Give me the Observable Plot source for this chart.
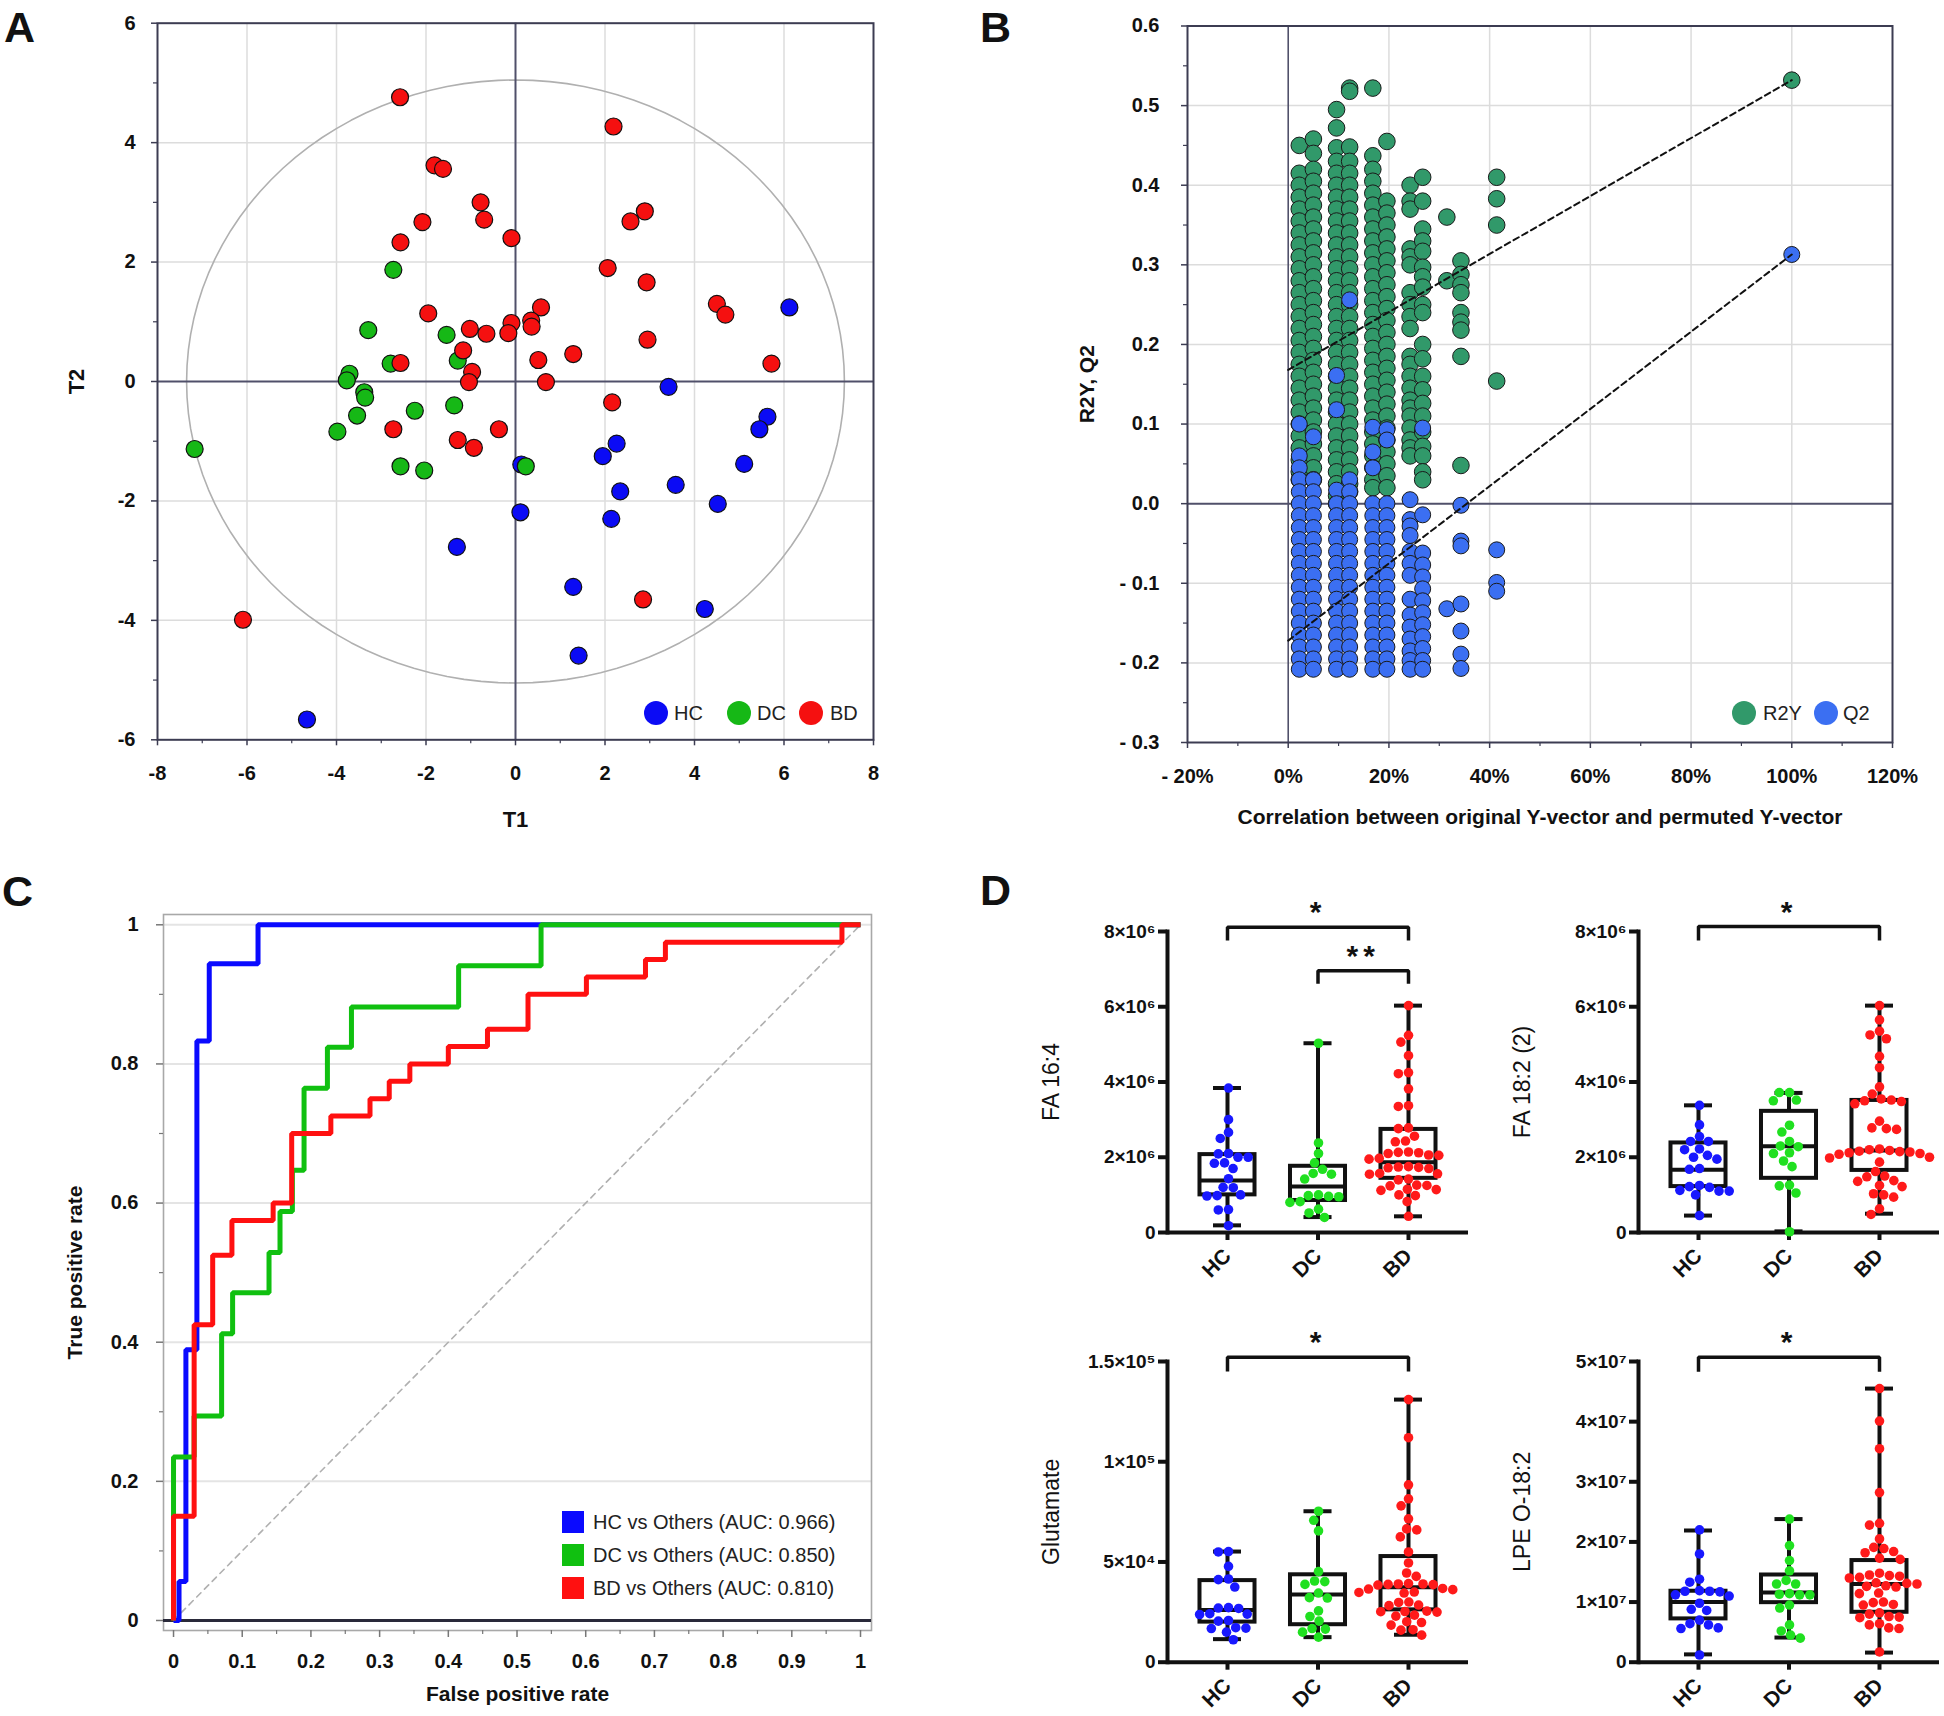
<!DOCTYPE html>
<html><head><meta charset="utf-8">
<script src="https://cdn.jsdelivr.net/npm/d3@7"></script>
<script src="https://cdn.jsdelivr.net/npm/@observablehq/plot@0.6"></script>
<style>
html,body{margin:0;padding:0;background:#fff;}
#page{position:relative;width:1944px;height:1716px;overflow:hidden;background:#fff;font-family:"Liberation Sans",Arial,Helvetica,sans-serif;color:#111;}
.panel{position:absolute;}
.letter{position:absolute;font-weight:bold;font-size:43px;line-height:50px;}
.legt{position:absolute;white-space:nowrap;color:#222;}
.legc{position:absolute;border-radius:50%;}
.legs{position:absolute;}
.pA [aria-label="x-axis label"], .pA [aria-label="y-axis label"]{font-size:22px;}
.pB [aria-label="x-axis label"], .pB [aria-label="y-axis label"]{font-size:21px;}
.pC [aria-label="x-axis label"], .pC [aria-label="y-axis label"]{font-size:21px;}
.pD .stars text{letter-spacing:5px;}
</style></head><body><div id="page"></div>
<script>
// ================= DATA =================
// Panel A: PLS-DA scores [T1, T2]
const scoresHC = [[6.12,1.24],[3.42,-0.09],[5.63,-0.59],[5.45,-0.80],[2.26,-1.04],[1.95,-1.25],[5.11,-1.38],[3.58,-1.73],[2.34,-1.84],[4.52,-2.05],[0.11,-2.19],[2.14,-2.30],[-1.31,-2.77],[1.29,-3.44],[4.23,-3.81],[1.41,-4.59],[-4.66,-5.66],[0.13,-1.39]];
const scoresDC = [[-2.73,1.87],[-3.29,0.86],[-1.54,0.78],[-2.79,0.30],[-1.29,0.35],[-3.71,0.13],[-3.77,0.02],[-3.38,-0.18],[-3.36,-0.27],[-2.25,-0.49],[-1.37,-0.40],[-3.54,-0.57],[-3.98,-0.84],[-7.17,-1.13],[-2.57,-1.42],[-2.04,-1.49],[0.23,-1.42]];
const scoresBD = [[-2.58,4.76],[2.19,4.27],[-1.81,3.62],[-1.62,3.56],[-0.78,3.00],[-0.70,2.71],[-2.08,2.67],[-2.57,2.33],[-0.09,2.40],[2.89,2.85],[2.57,2.68],[2.06,1.90],[2.93,1.66],[4.50,1.30],[4.69,1.12],[-1.95,1.14],[0.57,1.24],[0.35,1.02],[0.36,0.92],[-0.09,0.98],[-0.16,0.81],[-1.02,0.88],[-0.65,0.80],[2.95,0.70],[-1.17,0.52],[1.29,0.46],[0.51,0.36],[-2.57,0.31],[5.72,0.30],[-0.97,0.16],[-1.04,-0.01],[0.68,-0.01],[2.16,-0.35],[-2.73,-0.80],[-0.37,-0.80],[-1.29,-0.98],[-0.93,-1.11],[-6.09,-3.99],[2.85,-3.65]];
const ellipseAxes = [7.35, 5.05];
const aTicksX = [-8,-6,-4,-2,0,2,4,6,8];
const aMinorX = [-7,-5,-3,-1,1,3,5,7];
const aTicksY = [-6,-4,-2,0,2,4,6];
const aMinorY = [-5,-3,-1,1,3,5];
const aGridX = [-6,-4,-2,2,4,6];
const aGridY = [-4,-2,2,4];
const aGroups = ["HC","DC","BD"];

// Panel B: permutation test (x = correlation, columns of R2Y / Q2 values)
const permX = [0.022,0.050,0.096,0.122,0.168,0.196,0.242,0.267,0.315,0.343,0.414,1.000];
const r2yCols = [
 [0.450,0.415,0.400,0.385,0.370,0.355,0.340,0.325,0.310,0.295,0.280,0.265,0.250,0.235,0.220,0.205,0.190,0.175,0.160,0.145,0.130,0.115,0.100,0.085,0.070,0.055,0.040,0.030],
 [0.458,0.440,0.420,0.405,0.390,0.375,0.360,0.345,0.330,0.315,0.300,0.285,0.270,0.255,0.240,0.225,0.210,0.195,0.180,0.165,0.150,0.135,0.120,0.105,0.090,0.075,0.060,0.045,0.030],
 [0.495,0.472,0.447,0.430,0.415,0.400,0.385,0.370,0.355,0.340,0.325,0.310,0.295,0.280,0.265,0.250,0.235,0.220,0.205,0.190,0.175,0.160,0.145,0.130,0.115,0.100,0.085,0.070,0.055,0.040,0.025,0.010,0.000],
 [0.522,0.518,0.448,0.430,0.415,0.400,0.385,0.370,0.355,0.340,0.325,0.310,0.295,0.280,0.265,0.250,0.235,0.220,0.205,0.190,0.175,0.160,0.145,0.130,0.115,0.100,0.085,0.070,0.055,0.040,0.025,0.015],
 [0.522,0.437,0.420,0.405,0.390,0.375,0.360,0.345,0.330,0.315,0.300,0.285,0.270,0.255,0.240,0.225,0.210,0.195,0.180,0.165,0.150,0.135,0.120,0.105,0.090,0.075,0.060,0.045,0.030,0.020],
 [0.455,0.380,0.365,0.350,0.335,0.320,0.305,0.290,0.275,0.260,0.245,0.230,0.215,0.200,0.185,0.170,0.155,0.140,0.125,0.110,0.095,0.080,0.065,0.050,0.035,0.020],
 [0.400,0.380,0.370,0.320,0.310,0.300,0.265,0.250,0.235,0.220,0.185,0.175,0.160,0.145,0.130,0.120,0.110,0.095,0.080,0.070,0.060],
 [0.410,0.380,0.345,0.330,0.317,0.297,0.285,0.272,0.250,0.240,0.200,0.182,0.160,0.143,0.126,0.110,0.090,0.072,0.060,0.040,0.030],
 [0.360,0.280],
 [0.305,0.288,0.275,0.265,0.240,0.228,0.218,0.185,0.048],
 [0.410,0.383,0.350,0.154],
 [0.532]
];
const q2Cols = [
 [0.100,0.060,0.045,0.030,0.015,0.000,-0.015,-0.030,-0.045,-0.060,-0.075,-0.090,-0.105,-0.120,-0.135,-0.150,-0.165,-0.180,-0.195,-0.208],
 [0.084,0.030,0.015,0.000,-0.015,-0.030,-0.045,-0.060,-0.075,-0.090,-0.105,-0.120,-0.135,-0.150,-0.165,-0.180,-0.195,-0.208],
 [0.161,0.118,0.017,0.000,-0.015,-0.030,-0.045,-0.060,-0.075,-0.090,-0.105,-0.120,-0.135,-0.150,-0.165,-0.180,-0.195,-0.208],
 [0.256,0.030,0.015,0.000,-0.015,-0.030,-0.045,-0.060,-0.075,-0.090,-0.105,-0.120,-0.135,-0.150,-0.165,-0.180,-0.195,-0.208],
 [0.096,0.065,0.045,0.000,-0.015,-0.030,-0.045,-0.060,-0.075,-0.090,-0.105,-0.120,-0.135,-0.150,-0.165,-0.180,-0.195,-0.208],
 [0.093,0.080,0.000,-0.015,-0.030,-0.045,-0.060,-0.075,-0.090,-0.105,-0.120,-0.135,-0.150,-0.165,-0.180,-0.195,-0.208],
 [0.005,-0.020,-0.028,-0.040,-0.060,-0.075,-0.090,-0.120,-0.140,-0.155,-0.170,-0.185,-0.197,-0.208],
 [0.095,-0.014,-0.062,-0.077,-0.092,-0.107,-0.122,-0.137,-0.152,-0.167,-0.182,-0.197,-0.208],
 [-0.132],
 [-0.002,-0.047,-0.053,-0.126,-0.160,-0.189,-0.207],
 [-0.058,-0.099,-0.110],
 [0.313]
];
const r2yFit = [[0,0.168],[1,0.532]];
const q2Fit = [[0,-0.172],[1,0.313]];
const bTicksX = [-0.2,0,0.2,0.4,0.6,0.8,1.0,1.2];
const bTickLabelsX = ["- 20%","0%","20%","40%","60%","80%","100%","120%"];
const bMinorX = [-0.1,0.1,0.3,0.5,0.7,0.9,1.1];
const bTicksY = [-0.3,-0.2,-0.1,0,0.1,0.2,0.3,0.4,0.5,0.6];
const bTickLabelsY = ["- 0.3","- 0.2","- 0.1","0.0","0.1","0.2","0.3","0.4","0.5","0.6"];
const bMinorY = [-0.25,-0.15,-0.05,0.05,0.15,0.25,0.35,0.45,0.55];
const bGridX = [0.2,0.4,0.6,0.8,1.0];
const bGridY = [-0.2,-0.1,0.1,0.2,0.3,0.4,0.5];

// Panel C: ROC curves [FPR, TPR]
const rocHC = [[0,0],[0.008,0],[0.008,0.056],[0.018,0.056],[0.018,0.389],[0.034,0.389],[0.034,0.833],[0.052,0.833],[0.052,0.944],[0.123,0.944],[0.123,1],[1,1]];
const rocDC = [[0,0],[0,0.235],[0.03,0.235],[0.03,0.294],[0.07,0.294],[0.07,0.412],[0.086,0.412],[0.086,0.471],[0.139,0.471],[0.139,0.529],[0.155,0.529],[0.155,0.588],[0.173,0.588],[0.173,0.647],[0.19,0.647],[0.19,0.765],[0.224,0.765],[0.224,0.824],[0.259,0.824],[0.259,0.882],[0.415,0.882],[0.415,0.941],[0.535,0.941],[0.535,1],[1,1]];
const rocBD = [[0,0],[0,0.15],[0.03,0.15],[0.03,0.425],[0.057,0.425],[0.057,0.525],[0.085,0.525],[0.085,0.575],[0.145,0.575],[0.145,0.6],[0.172,0.6],[0.172,0.7],[0.229,0.7],[0.229,0.725],[0.286,0.725],[0.286,0.75],[0.314,0.75],[0.314,0.775],[0.344,0.775],[0.344,0.8],[0.4,0.8],[0.4,0.825],[0.457,0.825],[0.457,0.85],[0.516,0.85],[0.516,0.9],[0.601,0.9],[0.601,0.925],[0.687,0.925],[0.687,0.95],[0.716,0.95],[0.716,0.975],[0.973,0.975],[0.973,1],[1,1]];
const rocLabels = ["HC vs Others (AUC: 0.966)","DC vs Others (AUC: 0.850)","BD vs Others (AUC: 0.810)"];
const cTicksX = [0,0.1,0.2,0.3,0.4,0.5,0.6,0.7,0.8,0.9,1];
const cTickLabelsX = ["0","0.1","0.2","0.3","0.4","0.5","0.6","0.7","0.8","0.9","1"];
const cMinorX = [0.05,0.15,0.25,0.35,0.45,0.55,0.65,0.75,0.85,0.95];
const cTicksY = [0,0.2,0.4,0.6,0.8,1];
const cTickLabelsY = ["0","0.2","0.4","0.6","0.8","1"];
const cMinorY = [0.1,0.3,0.5,0.7,0.9];
const cGridY = [0.2,0.4,0.6,0.8,1];

// Panel D: box plots (values in units of the axis exponent)
const groupsD = ["HC","DC","BD"];
const fa164HC = [3.84,3.0,2.66,2.5,2.1,2.09,2.0,2.0,1.85,1.84,1.7,1.43,1.2,1.19,1.0,0.98,0.97,0.61,0.6,0.18];
const fa164DC = [5.03,2.38,2.1,1.85,1.68,1.57,1.55,1.42,1.0,0.98,0.96,0.95,0.82,0.8,0.62,0.52,0.4];
const fa164BD = [6.03,5.24,5.06,4.7,4.25,4.22,3.82,3.37,3.35,2.78,2.76,2.56,2.43,2.41,2.14,2.13,2.12,2.1,2.06,2.05,1.97,1.95,1.75,1.74,1.73,1.72,1.7,1.57,1.56,1.55,1.42,1.4,1.26,1.25,1.24,1.15,1.14,1.12,1.0,0.98,0.82,0.43];
const fa164Box = [[0.19,1.0,1.38,2.07,3.84],[0.41,0.85,1.22,1.76,5.03],[0.43,1.44,1.87,2.74,6.03]];
const fa164Brackets = [{from:0,to:2,y:8.11,leg:7.76,star:8.50,label:"*"},{from:1,to:2,y:6.96,leg:6.61,star:7.35,label:"**"}];
const fa182HC = [3.38,2.86,2.55,2.42,2.42,2.22,2.2,2.05,2.0,1.95,1.7,1.68,1.25,1.22,1.2,1.12,1.1,1.1,1.0,0.45];
const fa182DC = [3.72,3.72,3.52,3.5,2.85,2.67,2.42,2.3,2.28,2.12,2.1,1.9,1.75,1.26,1.24,1.05,0.02];
const fa182BD = [6.03,5.65,5.35,5.25,5.15,4.68,4.38,3.87,3.68,3.55,3.52,3.5,3.48,3.42,2.96,2.78,2.76,2.74,2.22,2.2,2.18,2.16,2.15,2.14,2.12,2.1,2.08,2.0,1.98,1.87,1.62,1.5,1.48,1.38,1.36,1.25,1.22,1.03,1.0,0.94,0.63,0.48];
const fa182Box = [[0.45,1.22,1.67,2.38,3.38],[0.03,1.44,2.29,3.22,3.71],[0.50,1.65,2.18,3.51,6.03]];
const fa182Brackets = [{from:0,to:2,y:8.13,leg:7.76,star:8.50,label:"*"}];
const gluHC = [5.52,5.5,4.78,4.15,4.12,3.75,2.72,2.7,2.68,2.42,2.4,2.38,2.08,2.05,1.72,1.7,1.68,1.5,1.12];
const gluDC = [7.53,7.08,6.55,4.52,4.05,4.02,3.88,3.45,3.22,3.2,2.56,2.28,2.05,1.68,1.65,1.5,1.25];
const gluBD = [13.1,11.2,8.85,8.15,7.8,7.15,6.65,6.6,6.25,5.5,4.95,4.45,4.28,3.92,3.9,3.9,3.88,3.87,3.85,3.68,3.65,3.62,3.5,3.48,3.45,3.0,2.98,2.85,2.82,2.55,2.53,2.52,2.5,2.35,2.3,2.02,1.98,1.85,1.62,1.6,1.35];
const gluBox = [[1.15,2.0,2.61,4.07,5.52],[1.25,1.87,3.38,4.36,7.53],[1.37,2.61,3.74,5.27,13.1]];
const gluBrackets = [{from:0,to:2,y:15.21,leg:14.5,star:15.93,label:"*"}];
const lpeHC = [2.2,1.8,1.38,1.33,1.19,1.18,1.18,1.17,1.12,1.1,0.98,0.88,0.86,0.7,0.64,0.62,0.57,0.56,0.12];
const lpeDC = [2.38,1.94,1.69,1.52,1.36,1.3,1.3,1.14,1.13,1.12,1.12,0.95,0.9,0.62,0.52,0.45,0.4];
const lpeBD = [4.55,4.01,3.55,2.82,2.31,2.28,2.05,1.91,1.89,1.84,1.82,1.73,1.71,1.48,1.45,1.44,1.43,1.41,1.4,1.32,1.31,1.3,1.27,1.26,1.25,1.15,1.14,1.0,0.99,0.96,0.95,0.82,0.8,0.76,0.75,0.74,0.64,0.62,0.57,0.56,0.17];
const lpeBox = [[0.13,0.72,1.0,1.18,2.19],[0.41,0.99,1.16,1.45,2.38],[0.16,0.83,1.30,1.69,4.55]];
const lpeBrackets = [{from:0,to:2,y:5.07,leg:4.83,star:5.31,label:"*"}];
const e6Ticks = [0,2,4,6,8], e6Labels = ["0","2×10⁶","4×10⁶","6×10⁶","8×10⁶"];
const gluTicks = [0,5,10,15], gluLabels = ["0","5×10⁴","1×10⁵","1.5×10⁵"];
const lpeTicks = [0,1,2,3,4,5], lpeLabels = ["0","1×10⁷","2×10⁷","3×10⁷","4×10⁷","5×10⁷"];

// ================= STYLE =================
const FONT = '"Liberation Sans", Arial, Helvetica, sans-serif';
const baseStyle = {background: "transparent", overflow: "visible", fontFamily: FONT, color: "#111"};
const AX = "#3c3c52";
const colA = ["#0b0bf5","#16b816","#f51010"];
const colB = {r2y: "#31996a", q2: "#3b6ff2"};
const colC = ["#0a0aff","#10c010","#ff1010"];
const colD = ["#1818ff","#20e020","#ff1a1a"];
const INK = "#111";

const page = document.getElementById("page");
function put(node, left, top, w, h) {
  const d = document.createElement("div");
  d.className = "panel";
  d.style.left = left + "px"; d.style.top = top + "px";
  if (w) d.style.width = w + "px";
  if (h) d.style.height = h + "px";
  d.appendChild(node); page.appendChild(d); return d;
}
function letter(t, left, top) {
  const d = document.createElement("div"); d.className = "letter";
  d.style.left = left + "px"; d.style.top = top + "px"; d.textContent = t; page.appendChild(d);
}
function legCircle(cx, cy, r, color) {
  const d = document.createElement("div"); d.className = "legc";
  Object.assign(d.style, {left: (cx - r) + "px", top: (cy - r) + "px", width: 2*r + "px", height: 2*r + "px", background: color});
  page.appendChild(d);
}
function legSquare(x, y, s, color) {
  const d = document.createElement("div"); d.className = "legs";
  Object.assign(d.style, {left: x + "px", top: y + "px", width: s + "px", height: s + "px", background: color});
  page.appendChild(d);
}
function legText(t, left, cy, size) {
  const d = document.createElement("div"); d.className = "legt";
  Object.assign(d.style, {left: left + "px", top: (cy - 0.49*size) + "px", fontSize: size + "px", lineHeight: size + "px"});
  d.textContent = t; page.appendChild(d);
}
const fmtFrom = (ticks, labels) => d => labels[ticks.indexOf(d)] ?? "";

// ================= PANEL A =================
const ellipse = d3.range(0, 361, 3).map(deg => {
  const t = deg * Math.PI / 180; return [ellipseAxes[0]*Math.cos(t), ellipseAxes[1]*Math.sin(t)];
});
const plotA = Plot.plot({
  width: 900, height: 850,
  marginLeft: 157, marginRight: 27, marginTop: 22.7, marginBottom: 110.7,
  x: {domain: [-8, 8]}, y: {domain: [-6, 6]},
  style: baseStyle,
  marks: [
    Plot.gridX(aGridX, {stroke: "#dcdcdc", strokeOpacity: 1, strokeWidth: 1.5}),
    Plot.gridY(aGridY, {stroke: "#dcdcdc", strokeOpacity: 1, strokeWidth: 1.5}),
    Plot.line(ellipse, {x: d => d[0], y: d => d[1], stroke: "#b0b0b0", strokeWidth: 1.6}),
    Plot.ruleX([0], {stroke: "#50506a", strokeWidth: 2}),
    Plot.ruleY([0], {stroke: "#50506a", strokeWidth: 2}),
    Plot.frame({stroke: AX, strokeWidth: 2}),
    Plot.axisX(aTicksX, {anchor: "bottom", tickSize: 6, tickPadding: 20, tickFormat: d => String(d), fontSize: 20, fontWeight: "bold", stroke: AX, strokeWidth: 1.5, label: "T1", labelAnchor: "center", labelOffset: 87, labelArrow: "none"}),
    Plot.axisX(aMinorX, {anchor: "bottom", tickSize: 4, tickFormat: () => "", stroke: AX, strokeWidth: 1.2, label: null}),
    Plot.axisY(aTicksY, {anchor: "left", tickSize: 6, tickPadding: 16, tickFormat: d => String(d), fontSize: 20, fontWeight: "bold", stroke: AX, strokeWidth: 1.5, label: "T2", labelAnchor: "center", labelOffset: 89, labelArrow: "none"}),
    Plot.axisY(aMinorY, {anchor: "left", tickSize: 4, tickFormat: () => "", stroke: AX, strokeWidth: 1.2, label: null}),
    Plot.dot(scoresHC, {x: d => d[0], y: d => d[1], r: 8.5, fill: colA[0], stroke: INK, strokeWidth: 1.2}),
    Plot.dot(scoresDC, {x: d => d[0], y: d => d[1], r: 8.5, fill: colA[1], stroke: INK, strokeWidth: 1.2}),
    Plot.dot(scoresBD, {x: d => d[0], y: d => d[1], r: 8.5, fill: colA[2], stroke: INK, strokeWidth: 1.2})
  ]
});
plotA.classList.add("pA");
put(plotA, 0, 0, 900, 850);
[[656, 674], [739, 757], [811, 830]].forEach(([cx, tx], i) => { legCircle(cx, 713, 12, colA[i]); legText(aGroups[i], tx, 713, 20); });

// ================= PANEL B =================
const r2yPts = permX.flatMap((x, i) => r2yCols[i].map(y => ({x, y})));
const q2Pts = permX.flatMap((x, i) => q2Cols[i].map(y => ({x, y})));
const plotB = Plot.plot({
  width: 964, height: 850,
  marginLeft: 207, marginRight: 52, marginTop: 25.5, marginBottom: 108,
  x: {domain: [-0.2, 1.2]}, y: {domain: [-0.3, 0.6]},
  style: baseStyle,
  marks: [
    Plot.gridX(bGridX, {stroke: "#dcdcdc", strokeOpacity: 1, strokeWidth: 1.5}),
    Plot.gridY(bGridY, {stroke: "#dcdcdc", strokeOpacity: 1, strokeWidth: 1.5}),
    Plot.ruleX([0], {stroke: "#50506a", strokeWidth: 1.6}),
    Plot.ruleY([0], {stroke: "#50506a", strokeWidth: 2}),
    Plot.frame({stroke: AX, strokeWidth: 2}),
    Plot.axisX(bTicksX, {anchor: "bottom", tickSize: 6, tickPadding: 20, tickFormat: fmtFrom(bTicksX, bTickLabelsX), fontSize: 20, fontWeight: "bold", stroke: AX, strokeWidth: 1.5, label: "Correlation between original Y-vector and permuted Y-vector", labelAnchor: "center", labelOffset: 81, labelArrow: "none"}),
    Plot.axisX(bMinorX, {anchor: "bottom", tickSize: 4, tickFormat: () => "", stroke: AX, strokeWidth: 1.2, label: null}),
    Plot.axisY(bTicksY, {anchor: "left", tickSize: 6, tickPadding: 22, tickFormat: fmtFrom(bTicksY, bTickLabelsY), fontSize: 20, fontWeight: "bold", stroke: AX, strokeWidth: 1.5, label: "R2Y, Q2", labelAnchor: "center", labelOffset: 108, labelArrow: "none"}),
    Plot.axisY(bMinorY, {anchor: "left", tickSize: 4, tickFormat: () => "", stroke: AX, strokeWidth: 1.2, label: null}),
    Plot.dot(r2yPts, {x: "x", y: "y", r: 8.3, fill: colB.r2y, stroke: "#1a1a1a", strokeWidth: 1}),
    Plot.dot(q2Pts, {x: "x", y: "y", r: 8.0, fill: colB.q2, stroke: "#1a1a1a", strokeWidth: 1}),
    Plot.line(r2yFit, {x: d => d[0], y: d => d[1], stroke: "#111", strokeWidth: 2, strokeDasharray: "6,4"}),
    Plot.line(q2Fit, {x: d => d[0], y: d => d[1], stroke: "#111", strokeWidth: 2, strokeDasharray: "6,4"})
  ]
});
plotB.classList.add("pB");
put(plotB, 980, 0, 964, 850);
legCircle(1744, 713, 12, colB.r2y); legText("R2Y", 1763, 713, 20);
legCircle(1826, 713, 12, colB.q2); legText("Q2", 1843, 713, 20);

// ================= PANEL C =================
const plotC = Plot.plot({
  width: 900, height: 861,
  marginLeft: 163, marginRight: 29, marginTop: 59, marginBottom: 86,
  x: {domain: [-0.0146, 1.016]}, y: {domain: [-0.0144, 1.0148]},
  style: baseStyle,
  marks: [
    Plot.gridY(cGridY, {stroke: "#e4e4e4", strokeOpacity: 1, strokeWidth: 2}),
    Plot.frame({stroke: "#a8a8a8", strokeWidth: 1.6}),
    Plot.ruleY([0], {stroke: "#2a2a3a", strokeWidth: 3}),
    Plot.line([[0,0],[1,1]], {x: d => d[0], y: d => d[1], stroke: "#b0b0b0", strokeWidth: 1.6, strokeDasharray: "6,5"}),
    Plot.axisX(cTicksX, {anchor: "bottom", tickSize: 7, tickPadding: 16, tickFormat: fmtFrom(cTicksX, cTickLabelsX), fontSize: 20, fontWeight: "bold", stroke: "#777", strokeWidth: 1.5, label: "False positive rate", labelAnchor: "center", labelOffset: 70, labelArrow: "none"}),
    Plot.axisX(cMinorX, {anchor: "bottom", tickSize: 4, tickFormat: () => "", stroke: "#777", strokeWidth: 1.2, label: null}),
    Plot.axisY(cTicksY, {anchor: "left", tickSize: 7, tickPadding: 18, tickFormat: fmtFrom(cTicksY, cTickLabelsY), fontSize: 20, fontWeight: "bold", stroke: "#777", strokeWidth: 1.5, label: "True positive rate", labelAnchor: "center", labelOffset: 96, labelArrow: "none"}),
    Plot.axisY(cMinorY, {anchor: "left", tickSize: 4, tickFormat: () => "", stroke: "#777", strokeWidth: 1.2, label: null}),
    Plot.line(rocHC, {x: d => d[0], y: d => d[1], stroke: colC[0], strokeWidth: 5, strokeLinejoin: "miter", strokeLinecap: "butt"}),
    Plot.line(rocDC, {x: d => d[0], y: d => d[1], stroke: colC[1], strokeWidth: 5, strokeLinejoin: "miter", strokeLinecap: "butt"}),
    Plot.line(rocBD, {x: d => d[0], y: d => d[1], stroke: colC[2], strokeWidth: 5, strokeLinejoin: "miter", strokeLinecap: "butt"})
  ]
});
plotC.classList.add("pC");
put(plotC, 0, 855, 900, 861);
[1522, 1555, 1588].forEach((cy, i) => { legSquare(562, cy - 11, 22, colC[i]); legText(rocLabels[i], 593, cy, 20); });

// ================= PANEL D =================
const OUTER = 0.163, HALF = 0.304, CAP = 0.155;
function boxPanel({left, top, width, height, ml, mr, mt, mb, yMax, yTicks, yLabels, label, points, boxes, brackets}) {
  const boxRows = boxes.map((b, i) => ({i, min: b[0], q1: b[1], median: b[2], q3: b[3], max: b[4]}));
  const pts = points.flatMap((arr, i) => arr.map(v => ({group: groupsD[i], v})));
  const bracketPts = brackets.flatMap((b, k) => [
    {k, x: b.from, y: b.leg}, {k, x: b.from, y: b.y}, {k, x: b.to, y: b.y}, {k, x: b.to, y: b.leg}]);
  const common = {width, height, marginLeft: ml, marginRight: mr, marginTop: mt, marginBottom: mb, style: baseStyle};
  const svg1 = Plot.plot({
    ...common,
    x: {domain: [-0.5 - OUTER, 2.5 + OUTER]}, y: {domain: [0, yMax]},
    marks: [
      Plot.ruleX(boxRows, {x: "i", y1: "min", y2: "max", stroke: INK, strokeWidth: 4}),
      Plot.ruleY(boxRows, {x1: d => d.i - CAP, x2: d => d.i + CAP, y: "min", stroke: INK, strokeWidth: 4}),
      Plot.ruleY(boxRows, {x1: d => d.i - CAP, x2: d => d.i + CAP, y: "max", stroke: INK, strokeWidth: 4}),
      Plot.rectY(boxRows, {x1: d => d.i - HALF, x2: d => d.i + HALF, y1: "q1", y2: "q3", fill: "white", stroke: INK, strokeWidth: 4}),
      Plot.ruleY(boxRows, {x1: d => d.i - HALF, x2: d => d.i + HALF, y: "median", stroke: INK, strokeWidth: 4}),
      Plot.ruleY([0], {stroke: INK, strokeWidth: 4}),
      Plot.frame({anchor: "left", stroke: INK, strokeWidth: 4}),
      Plot.axisY(yTicks, {anchor: "left", tickSize: 9, tickPadding: 3, tickFormat: fmtFrom(yTicks, yLabels), fontSize: 19, fontWeight: "bold", stroke: INK, strokeWidth: 4, label: null}),
      Plot.text([label], {frameAnchor: "left", rotate: -90, textAnchor: "middle", lineAnchor: "top", dx: -125, fontSize: 23, fill: INK}),
      Plot.axisX([0, 1, 2], {anchor: "bottom", tickSize: 8, tickPadding: 12, tickRotate: -45, tickFormat: i => groupsD[i], fontSize: 21, fontWeight: "bold", stroke: INK, strokeWidth: 4, label: null}),
      Plot.line(bracketPts, {x: "x", y: "y", z: "k", stroke: INK, strokeWidth: 3.5, strokeLinejoin: "miter", strokeLinecap: "butt"}),
      Plot.text(brackets, {x: d => (d.from + d.to) / 2, y: "star", text: "label", fontSize: 30, fontWeight: "bold", fill: INK, className: "stars"})
    ]
  });
  svg1.classList.add("pD");
  const svg2 = Plot.plot({
    ...common,
    fx: {domain: groupsD, paddingInner: 0, paddingOuter: OUTER, axis: null, label: null},
    y: {domain: [0, yMax], axis: null},
    color: {domain: groupsD, range: colD},
    marks: [
      Plot.dot(pts, Plot.dodgeX({anchor: "middle", padding: 0.6, r: 4.8}, {fx: "group", y: "v", r: 4.8, fill: "group"}))
    ]
  });
  put(svg1, left, top, width, height);
  put(svg2, left, top, width, height);
}
boxPanel({left: 995, top: 870, width: 480, height: 420, ml: 172, mr: 7, mt: 61, mb: 58, yMax: 8, yTicks: e6Ticks, yLabels: e6Labels, label: "FA 16:4", points: [fa164HC, fa164DC, fa164BD], boxes: fa164Box, brackets: fa164Brackets});
boxPanel({left: 1475, top: 870, width: 469, height: 420, ml: 163, mr: 5, mt: 61, mb: 58, yMax: 8, yTicks: e6Ticks, yLabels: e6Labels, label: "FA 18:2 (2)", points: [fa182HC, fa182DC, fa182BD], boxes: fa182Box, brackets: fa182Brackets});
boxPanel({left: 995, top: 1300, width: 480, height: 416, ml: 172, mr: 7, mt: 61, mb: 54.3, yMax: 15, yTicks: gluTicks, yLabels: gluLabels, label: "Glutamate", points: [gluHC, gluDC, gluBD], boxes: gluBox, brackets: gluBrackets});
boxPanel({left: 1475, top: 1300, width: 469, height: 416, ml: 163, mr: 5, mt: 61, mb: 54.3, yMax: 5, yTicks: lpeTicks, yLabels: lpeLabels, label: "LPE O-18:2", points: [lpeHC, lpeDC, lpeBD], boxes: lpeBox, brackets: lpeBrackets});

// ================= LETTERS =================
letter("A", 4, 2); letter("B", 980, 2); letter("C", 2, 866); letter("D", 980, 865);
</script></body></html>
